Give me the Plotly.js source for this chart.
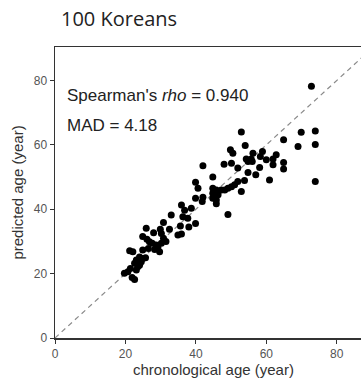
<!DOCTYPE html>
<html>
<head>
<meta charset="utf-8">
<script src="https://cdn.plot.ly/plotly-3.0.1.min.js"></script>
<style>html,body{margin:0;padding:0;background:#fff;overflow:hidden;width:361px;height:380px}#chart{width:372px;height:380px}</style>
</head>
<body>
<div id="chart"></div>
<script>
const chronologicalAge = [72.8,69.9,73.9,73.9,69.0,64.9,73.9,60.9,58.9,60.0,61.9,61.9,62.8,64.9,64.9,58.1,
  52.9,54.0,49.8,50.5,56.2,58.3,54.3,55.7,54.8,56.0,48.0,50.1,51.9,54.8,57.0,42.0,53.8,51.9,51.0,50.1,49.1,48.2,52.9,44.8,
  39.9,40.6,44.8,45.8,44.8,46.3,47.2,39.9,42.0,41.8,44.8,45.8,45.8,49.1,35.9,36.8,38.7,36.3,37.7,
  39.9,33.0,30.8,35.6,34.9,35.9,32.5,29.9,30.2,28.0,25.9,24.9,26.1,26.8,27.6,28.7,30.2,30.8,28.3,29.7,29.2,
  24.9,21.2,22.1,24.0,24.9,24.5,25.7,23.1,22.6,23.5,23.1,21.4,20.7,19.7,21.9,22.6,24.0,26.5,31.5,38.0];
const predictedAge = [78.2,63.9,64.3,60.1,59.5,61.6,48.6,49.1,57.9,55.4,55.6,53.8,56.9,54.5,52.5,53.0,
  64.0,59.8,58.5,57.4,57.4,56.4,55.6,55.6,54.8,54.8,54.0,54.3,52.8,51.4,50.7,53.5,48.9,48.6,47.6,47.0,46.5,46.0,45.5,50.0,
  48.4,46.5,46.5,46.0,45.0,44.5,46.0,43.4,43.7,42.4,43.4,42.9,41.7,38.4,41.3,39.7,40.3,37.7,37.2,
  35.6,38.2,35.9,34.8,32.0,32.3,33.8,33.8,32.5,32.7,34.1,31.5,30.7,29.9,29.4,28.9,29.4,31.0,27.5,26.8,28.2,
  27.3,27.1,26.8,25.2,24.7,23.7,24.9,24.2,23.2,22.1,21.1,21.6,20.6,20.1,18.8,18.2,22.6,27.8,30.0,34.5];
const identityLine = [0, 90];
const tickValues = [0, 20, 40, 60, 80];
const tickLabels = ['0', '20', '40', '60', '80'];

const axisFont = {family: 'Liberation Sans, Arial, sans-serif', size: 12, color: '#555'};
const titleFont = {family: 'Liberation Sans, Arial, sans-serif', size: 15, color: '#333'};
const noteFont = {family: 'Liberation Sans, Arial, sans-serif', size: 17, color: '#222'};

const traces = [
  {x: identityLine, y: identityLine, mode: 'lines', type: 'scatter',
   line: {color: '#8a8a8a', width: 1.2, dash: '5px,4px'}, hoverinfo: 'skip', showlegend: false},
  {x: chronologicalAge, y: predictedAge, mode: 'markers', type: 'scatter',
   marker: {color: '#000', size: 7}, showlegend: false}
];

const layout = {
  width: 372, height: 380,
  margin: {l: 55, r: 0, t: 47, b: 42, pad: 0},
  paper_bgcolor: '#fff', plot_bgcolor: '#fff',
  title: {text: '100 Koreans', font: {family: 'Open Sans, sans-serif', size: 20, color: '#222'},
          xref: 'container', yref: 'container', x: 61/372, xanchor: 'left', y: 1 - 19/380, yanchor: 'middle'},
  xaxis: {range: [0, 90], tickvals: tickValues, ticktext: tickLabels, ticks: 'outside', ticklen: 4,
          tickcolor: '#333', tickwidth: 1, showline: true, linecolor: '#333', linewidth: 1.5, mirror: true,
          showgrid: false, zeroline: false, tickfont: axisFont,
          title: {text: 'chronological age (year)', font: titleFont, standoff: 4}},
  yaxis: {range: [0, 90.4], tickvals: tickValues, ticktext: tickLabels, ticks: 'outside', ticklen: 4,
          tickcolor: '#333', tickwidth: 1, showline: true, linecolor: '#333', linewidth: 1.5,
          showgrid: false, zeroline: false, tickfont: axisFont,
          title: {text: 'predicted age (year)', font: titleFont, standoff: 6}},
  annotations: [
    {x: 2.7, y: 75.3, xref: 'x', yref: 'y', xanchor: 'left', yanchor: 'middle', showarrow: false,
     text: "Spearman's <i>rho</i> = 0.940", font: noteFont},
    {x: 2.7, y: 66.0, xref: 'x', yref: 'y', xanchor: 'left', yanchor: 'middle', showarrow: false,
     text: 'MAD = 4.18', font: noteFont}
  ]
};

Plotly.newPlot('chart', traces, layout, {displayModeBar: false, staticPlot: true});
</script>
</body>
</html>
